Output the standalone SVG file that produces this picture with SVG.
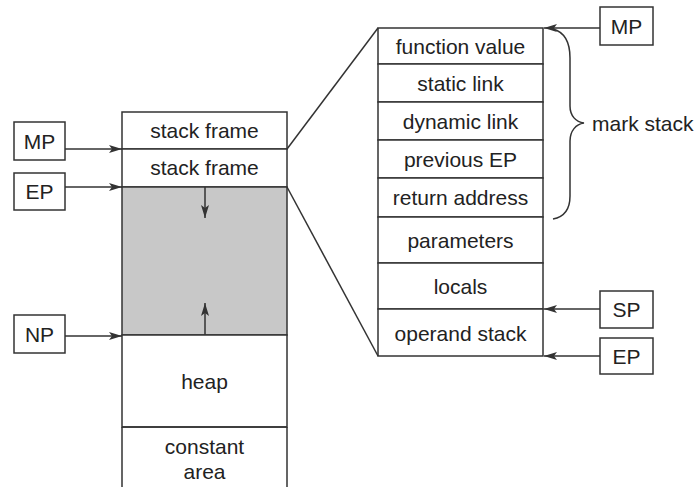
<svg xmlns="http://www.w3.org/2000/svg" width="698" height="487" viewBox="0 0 698 487">
<style>
.box{fill:#fff;stroke:#333;stroke-width:1.5}
.ln{fill:none;stroke:#333;stroke-width:1.5}
.t{font-family:"Liberation Sans",Arial,sans-serif;font-size:21px;fill:#222;text-anchor:middle}
.tl{font-family:"Liberation Sans",Arial,sans-serif;font-size:21px;fill:#222}
</style>
<defs>
<marker id="ah" viewBox="0 0 13 8" refX="13" refY="4" markerWidth="13" markerHeight="8" markerUnits="userSpaceOnUse" orient="auto">
<path d="M0,0 L13,4 L0,8 L3,4 Z" fill="#333"/>
</marker>
</defs>
<rect width="698" height="487" fill="#fff"/>

<g id="memory">
<rect class="box" x="122" y="112" width="165" height="37"/>
<text class="t" x="204.5" y="138">stack frame</text>
<rect class="box" x="122" y="149" width="165" height="38"/>
<text class="t" x="204.5" y="175">stack frame</text>
<rect x="122" y="187" width="165" height="148" fill="#c8c8c8" stroke="#333" stroke-width="1.5"/>
<rect class="box" x="122" y="335" width="165" height="92"/>
<text class="t" x="204.5" y="389">heap</text>
<path class="ln" d="M122,427 H287 M122,427 V490 M287,427 V490"/>
<text class="t" x="204.5" y="454">constant</text>
<text class="t" x="204.5" y="479">area</text>
</g>

<g id="frame">
<rect class="box" x="378" y="28" width="165" height="36"/>
<text class="t" x="460.5" y="54">function value</text>
<rect class="box" x="378" y="64" width="165" height="38"/>
<text class="t" x="460.5" y="91">static link</text>
<rect class="box" x="378" y="102" width="165" height="38"/>
<text class="t" x="460.5" y="129">dynamic link</text>
<rect class="box" x="378" y="140" width="165" height="38"/>
<text class="t" x="460.5" y="167">previous EP</text>
<rect class="box" x="378" y="178" width="165" height="39"/>
<text class="t" x="460.5" y="205">return address</text>
<rect class="box" x="378" y="217" width="165" height="46"/>
<text class="t" x="460.5" y="248">parameters</text>
<rect class="box" x="378" y="263" width="165" height="46"/>
<text class="t" x="460.5" y="294">locals</text>
<rect class="box" x="378" y="309" width="165" height="47"/>
<text class="t" x="460.5" y="341">operand stack</text>
</g>

<g id="mp-left"><rect class="box" x="14" y="122" width="51" height="38"/><text class="t" x="39.5" y="149">MP</text></g>
<g id="ep-left"><rect class="box" x="14" y="173" width="51" height="37"/><text class="t" x="39.5" y="199">EP</text></g>
<g id="np-left"><rect class="box" x="14" y="315" width="51" height="38"/><text class="t" x="39.5" y="342">NP</text></g>
<g id="mp-right"><rect class="box" x="600" y="7" width="53" height="38"/><text class="t" x="626.5" y="34">MP</text></g>
<g id="sp-right"><rect class="box" x="600" y="291" width="53" height="37"/><text class="t" x="626.5" y="317">SP</text></g>
<g id="ep-right"><rect class="box" x="600" y="338" width="53" height="36"/><text class="t" x="626.5" y="364">EP</text></g>

<g id="mark-stack">
<path class="ln" d="M553,29 C564,32 570,42 570,58 L570,106 C570,116 576,122 584,123 C576,124 570,131 570,141 L570,196 C570,210 564,217 553,219"/>
<text class="tl" x="592" y="131">mark stack</text>
</g>

<g id="connectors">
<path class="ln" marker-end="url(#ah)" d="M65,149 H122"/>
<path class="ln" marker-end="url(#ah)" d="M65,187 H122"/>
<path class="ln" marker-end="url(#ah)" d="M65,336 H122"/>
<path class="ln" marker-end="url(#ah)" d="M205,187 V218"/>
<path class="ln" marker-end="url(#ah)" d="M205,335 V303"/>
<path class="ln" marker-end="url(#ah)" d="M600,28 H544"/>
<path class="ln" marker-end="url(#ah)" d="M600,309 H544"/>
<path class="ln" marker-end="url(#ah)" d="M600,356 H544"/>
<path class="ln" d="M287,149 L378,28"/>
<path class="ln" d="M287,187 L378,356"/>
</g>
</svg>
